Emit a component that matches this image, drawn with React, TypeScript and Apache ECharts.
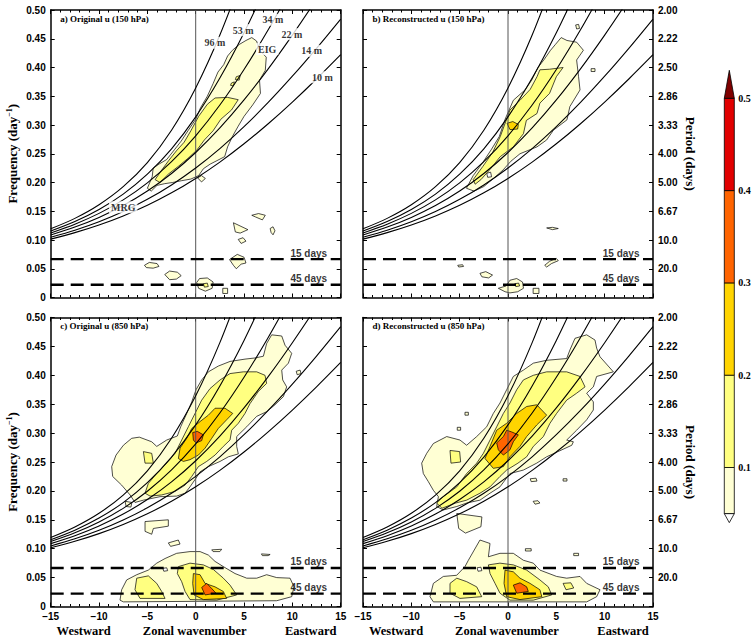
import React, { useEffect, useRef } from 'react';
import * as echarts from 'echarts';

const SANS = '"Liberation Sans", Arial, sans-serif';
const SERIF = '"Liberation Serif", "Times New Roman", serif';

// ---------- data ----------
const waveK = [-15, -12.5, -10, -7.5, -5, -2.5, 0, 2.5, 5, 7.5, 10, 12.5, 15];
// frequency (cpd) of n=0 MRG/EIG dispersion curves for each equivalent depth
const freq96m = [0.1194, 0.1376, 0.1613, 0.1927, 0.2347, 0.2910, 0.3645, 0.4565, 0.5659, null, null, null, null];
const freq53m = [0.1156, 0.1321, 0.1530, 0.1798, 0.2144, 0.2586, 0.3142, 0.3816, 0.4604, 0.5489, null, null, null];
const freq34m = [0.1123, 0.1275, 0.1463, 0.1698, 0.1994, 0.2362, 0.2812, 0.3347, 0.3965, 0.4655, 0.5404, null, null];
const freq22m = [0.1088, 0.1225, 0.1393, 0.1599, 0.1851, 0.2156, 0.2522, 0.2949, 0.3436, 0.3977, 0.4564, 0.5189, 0.5844];
const freq14m = [0.1048, 0.1171, 0.1318, 0.1495, 0.1707, 0.1958, 0.2252, 0.2590, 0.2972, 0.3392, 0.3848, 0.4333, 0.4842];
const freq10m = [0.1015, 0.1128, 0.1261, 0.1419, 0.1604, 0.1820, 0.2071, 0.2355, 0.2673, 0.3022, 0.3399, 0.3800, 0.4222];
const curves = [freq96m, freq53m, freq34m, freq22m, freq14m, freq10m];

const curveLabels: [string, number, number][] = [
  ['96 m', 2.0, 0.443], ['53 m', 4.9, 0.465], ['34 m', 8.0, 0.483], ['22 m', 9.95, 0.458],
  ['14 m', 12.0, 0.429], ['10 m', 13.1, 0.383], ['EIG', 7.4, 0.432], ['MRG', -7.5, 0.157],
];

const periodFreqs = [1 / 15, 1 / 45];
const periodNames = ['15 days', '45 days'];
const periodTickLabels = ['', '20.0', '10.0', '6.67', '5.00', '4.00', '3.33', '2.86', '2.50', '2.22', '2.00'];

const panelTitles = ['a) Original u (150 hPa)', 'b) Reconstructed u (150 hPa)', 'c) Original u (850 hPa)', 'd) Reconstructed u (850 hPa)'];

// level index: 0 hole(white), 1 (0.05-0.1), 2 (0.1-0.2), 3 (0.2-0.3), 4 (0.3-0.4), 5 (0.4-0.5), 6 (>0.5)
const levelColors = ['#ffffff', '#ffffd4', '#ffff80', '#ffd400', '#ff6400', '#e10000', '#7f0000'];
const cbLevels = [0.05, 0.1, 0.2, 0.3, 0.4, 0.5];
const cbLabels = ['', '0.1', '0.2', '0.3', '0.4', '0.5'];

type Poly = [number, number[]];

const polysA: Poly[] = [
  [1, [-5.0, 0.19, -4.5, 0.21, -4.4, 0.225, -3.8, 0.232, -3.0, 0.24, -2.2, 0.257, -1.5, 0.272, -0.8, 0.29, 0, 0.31, 0.5, 0.33, 1.2, 0.35, 1.8, 0.372, 2.3, 0.392, 2.9, 0.405, 3.3, 0.42, 3.8, 0.43, 4.5, 0.44, 5.2, 0.447, 5.8, 0.452, 6.3, 0.446, 6.6, 0.43, 7.3, 0.418, 7.2, 0.395, 6.6, 0.378, 6.7, 0.355, 5.9, 0.335, 5.0, 0.315, 4.4, 0.298, 3.8, 0.28, 3.3, 0.262, 3.0, 0.245, 2.2, 0.238, 1.5, 0.232, 0.8, 0.224, 0.3, 0.212, -0.5, 0.206, -1.5, 0.203, -2.4, 0.2, -3.2, 0.198, -4.0, 0.195, -4.6, 0.185]],
  [2, [-4.2, 0.205, -3.5, 0.222, -2.8, 0.238, -2.0, 0.255, -1.2, 0.27, -0.5, 0.29, 0.3, 0.315, 1.2, 0.336, 2.0, 0.347, 3.3, 0.348, 4.4, 0.344, 3.7, 0.326, 2.6, 0.31, 1.8, 0.29, 0.9, 0.274, 0.1, 0.256, -0.8, 0.242, -1.8, 0.228, -2.8, 0.215, -3.7, 0.2]],
  [2, [4.2, 0.384, 4.6, 0.386, 4.5, 0.378, 4.1, 0.379]],
  [2, [3.7, 0.373, 4.0, 0.375, 3.9, 0.368, 3.6, 0.369]],
  [1, [0.2, 0.208, 0.6, 0.212, 1.0, 0.207, 0.6, 0.201]],
  [1, [-5.3, 0.056, -4.8, 0.061, -4.0, 0.059, -3.8, 0.054, -4.4, 0.051, -5.1, 0.052]],
  [1, [-3.2, 0.04, -2.7, 0.046, -1.9, 0.044, -1.5, 0.038, -2.0, 0.032, -2.7, 0.031]],
  [1, [0.1, 0.026, 0.4, 0.033, 1.2, 0.034, 1.8, 0.027, 1.7, 0.016, 1.0, 0.011, 0.3, 0.016]],
  [2, [0.8, 0.024, 1.2, 0.025, 1.3, 0.019, 0.9, 0.018]],
  [1, [2.8, 0.016, 3.3, 0.016, 3.3, 0.007, 2.8, 0.007]],
  [1, [3.5, 0.066, 4.3, 0.075, 5.0, 0.07, 5.2, 0.06, 4.7, 0.058, 4.2, 0.05, 3.9, 0.056]],
  [1, [3.9, 0.13, 5.4, 0.118, 4.6, 0.112, 4.1, 0.114]],
  [1, [4.4, 0.101, 4.9, 0.104, 5.2, 0.098, 4.7, 0.094]],
  [1, [5.8, 0.143, 6.5, 0.146, 7.2, 0.143, 6.9, 0.135, 6.2, 0.14]],
  [1, [7.7, 0.12, 8.0, 0.123, 8.2, 0.116, 8.0, 0.109, 7.8, 0.113]],
];

const polysB: Poly[] = [
  [1, [-4.3, 0.19, -3.6, 0.212, -2.6, 0.235, -1.7, 0.258, -0.9, 0.28, -0.3, 0.31, 0.55, 0.343, 1.76, 0.361, 2.45, 0.378, 3.1, 0.40, 3.7, 0.413, 4.4, 0.43, 4.9, 0.44, 5.5, 0.452, 6.1, 0.447, 7.1, 0.444, 7.8, 0.43, 7.1, 0.413, 7.3, 0.384, 7.45, 0.361, 6.4, 0.332, 6.1, 0.309, 4.7, 0.291, 4.0, 0.274, 3.0, 0.262, 1.24, 0.25, 0.3, 0.237, -0.5, 0.222, -1.5, 0.207, -2.5, 0.193, -3.5, 0.185]],
  [0, [-2.2, 0.216, -1.8, 0.218, -1.7, 0.21, -2.1, 0.209]],
  [2, [-3.6, 0.205, -2.6, 0.228, -1.6, 0.252, -0.8, 0.28, 0.2, 0.326, 1.24, 0.343, 2.3, 0.362, 3.0, 0.384, 3.3, 0.396, 4.3, 0.397, 5.7, 0.40, 5.0, 0.384, 4.3, 0.355, 3.3, 0.338, 3.0, 0.32, 1.9, 0.308, 1.6, 0.285, 0.55, 0.262, -0.8, 0.245, -1.8, 0.224, -2.8, 0.205, -3.4, 0.197]],
  [3, [-0.1, 0.303, 0.5, 0.306, 1.07, 0.301, 1.0, 0.293, 0.2, 0.292]],
  [1, [7.0, 0.474, 7.3, 0.475, 7.4, 0.468, 7.1, 0.467]],
  [1, [8.6, 0.398, 9.0, 0.398, 9.0, 0.393, 8.6, 0.393]],
  [1, [4.0, 0.121, 4.6, 0.122, 5.2, 0.12, 4.6, 0.118]],
  [1, [3.8, 0.056, 4.3, 0.063, 5.0, 0.068, 5.2, 0.064, 4.5, 0.059, 4.0, 0.053]],
  [1, [-2.9, 0.042, -2.3, 0.045, -1.6, 0.039, -2.0, 0.034, -2.7, 0.036]],
  [1, [-5.2, 0.056, -4.7, 0.057, -4.6, 0.054, -5.1, 0.053]],
  [1, [-1.0, 0.016, -0.2, 0.02, 0.2, 0.03, 0.9, 0.033, 1.5, 0.027, 1.6, 0.016, 1.0, 0.01, 0.2, 0.008, -0.3, 0.01]],
  [2, [0.7, 0.024, 1.1, 0.025, 1.2, 0.02, 0.8, 0.019]],
  [1, [2.6, 0.016, 3.2, 0.016, 3.2, 0.007, 2.6, 0.007]],
];

const polysC: Poly[] = [
  [1, [-5.83, 0.293, -4.55, 0.285, -4.03, 0.277, -3.0, 0.288, -1.9, 0.295, -1.55, 0.311, -0.93, 0.334, -0.41, 0.354, 0.03, 0.375, 0.62, 0.392, 1.31, 0.406, 2.34, 0.416, 3.55, 0.424, 5.1, 0.428, 6.14, 0.43, 7.0, 0.433, 7.34, 0.455, 7.86, 0.47, 8.9, 0.468, 9.24, 0.452, 9.93, 0.438, 9.59, 0.421, 8.9, 0.409, 9.0, 0.392, 9.41, 0.38, 9.07, 0.363, 8.2, 0.349, 7.34, 0.337, 6.31, 0.329, 5.28, 0.311, 4.24, 0.294, 4.24, 0.277, 4.41, 0.264, 3.38, 0.259, 2.52, 0.251, 1.31, 0.242, 0.45, 0.233, 0.03, 0.222, -0.59, 0.207, -1.1, 0.196, -1.97, 0.191, -3.69, 0.19, -5.41, 0.184, -6.28, 0.18, -6.79, 0.193, -7.66, 0.21, -8.59, 0.225, -8.69, 0.242, -8.24, 0.262, -7.48, 0.279, -6.62, 0.291]],
  [2, [-5.24, 0.196, -4.9, 0.213, -4.03, 0.23, -3.0, 0.248, -2.14, 0.265, -1.45, 0.288, -0.76, 0.311, -0.07, 0.334, 0.62, 0.357, 1.48, 0.377, 2.52, 0.392, 3.55, 0.403, 4.93, 0.406, 6.31, 0.406, 7.17, 0.40, 7.34, 0.386, 6.48, 0.372, 5.62, 0.351, 5.1, 0.334, 4.41, 0.317, 3.72, 0.305, 3.55, 0.288, 2.86, 0.277, 2.0, 0.262, 1.14, 0.251, 0.28, 0.242, -0.41, 0.225, -1.1, 0.21, -2.14, 0.199, -3.52, 0.193, -4.72, 0.191]],
  [2, [-5.41, 0.268, -4.55, 0.265, -4.38, 0.248, -5.24, 0.248]],
  [3, [-1.79, 0.256, -1.62, 0.274, -0.93, 0.291, -0.41, 0.308, 0.45, 0.32, 1.31, 0.331, 2.0, 0.343, 3.03, 0.343, 3.83, 0.334, 3.2, 0.323, 2.34, 0.308, 1.66, 0.291, 0.97, 0.274, 0.28, 0.262, -0.59, 0.254, -1.28, 0.251]],
  [4, [-0.31, 0.301, 0.17, 0.303, 0.79, 0.297, 0.62, 0.287, 0.03, 0.283, -0.24, 0.288]],
  [1, [10.4, 0.407, 10.8, 0.409, 10.9, 0.403, 10.5, 0.401]],
  [1, [-7.3, 0.182, -6.6, 0.18, -6.7, 0.172, -7.2, 0.173]],
  [1, [-5.24, 0.147, -2.83, 0.15, -2.83, 0.139, -4.38, 0.135, -4.55, 0.125, -5.24, 0.13]],
  [1, [-2.83, 0.11, -1.8, 0.115, -1.62, 0.108, -2.6, 0.104]],
  [1, [1.66, 0.098, 2.69, 0.099, 2.5, 0.095, 1.8, 0.095]],
  [1, [6.8, 0.091, 7.7, 0.09, 7.5, 0.088, 6.9, 0.088]],
  [1, [-7.83, 0.011, -7.66, 0.029, -7.14, 0.046, -6.1, 0.055, -4.9, 0.063, -4.03, 0.075, -3.17, 0.083, -1.97, 0.092, -0.59, 0.095, 0.45, 0.095, 1.31, 0.089, 2.0, 0.078, 2.86, 0.069, 4.07, 0.057, 5.28, 0.049, 6.31, 0.049, 7.34, 0.055, 8.38, 0.05, 9.76, 0.049, 10.17, 0.034, 9.93, 0.017, 8.38, 0.01, -7.48, 0.008]],
  [0, [-3.4, 0.066, -3.0, 0.067, -2.9, 0.062, -3.3, 0.061]],
  [2, [-6.1, 0.049, -4.9, 0.053, -4.03, 0.04, -3.52, 0.026, -3.17, 0.014, -5.76, 0.014, -6.28, 0.029]],
  [2, [-1.79, 0.069, -0.59, 0.075, 0.79, 0.072, 1.83, 0.064, 2.86, 0.049, 3.55, 0.037, 4.24, 0.02, 2.17, 0.011, -0.59, 0.012, -1.1, 0.026, -1.45, 0.043, -1.9, 0.057]],
  [3, [-0.24, 0.057, 0.45, 0.055, 0.97, 0.04, 2.0, 0.034, 2.86, 0.026, 3.2, 0.014, 0.79, 0.012, -0.17, 0.02, -0.31, 0.04]],
  [4, [0.62, 0.033, 1.14, 0.04, 1.66, 0.031, 2.1, 0.023, 0.97, 0.02]],
];

const polysD: Poly[] = [
  [1, [-8.76, 0.23, -8.93, 0.248, -8.41, 0.265, -7.72, 0.282, -6.34, 0.294, -4.97, 0.288, -4.28, 0.279, -3.24, 0.294, -2.2, 0.311, -1.52, 0.334, -0.83, 0.352, -0.14, 0.375, 0.55, 0.398, 1.59, 0.409, 2.62, 0.421, 4.0, 0.426, 6.07, 0.429, 6.41, 0.444, 6.93, 0.464, 8.14, 0.47, 9.0, 0.461, 9.17, 0.447, 9.52, 0.432, 10.9, 0.406, 9.17, 0.398, 8.83, 0.38, 8.14, 0.369, 8.83, 0.354, 8.83, 0.34, 8.14, 0.323, 7.1, 0.305, 6.07, 0.288, 6.76, 0.285, 6.6, 0.279, 4.0, 0.259, 2.97, 0.248, 1.59, 0.236, 0.2, 0.23, -0.83, 0.207, -1.86, 0.196, -2.9, 0.184, -4.28, 0.179, -5.3, 0.173, -6.7, 0.167, -7.38, 0.173, -7.2, 0.19, -7.72, 0.201, -8.24, 0.216]],
  [1, [-5.3, 0.161, -2.7, 0.155, -2.8, 0.138, -4.4, 0.127, -5.1, 0.135]],
  [2, [-7.38, 0.179, -6.7, 0.19, -5.3, 0.207, -4.28, 0.23, -3.24, 0.248, -2.55, 0.265, -1.86, 0.288, -1.17, 0.311, -0.48, 0.334, 0.2, 0.352, 0.9, 0.375, 1.59, 0.392, 2.62, 0.40, 4.0, 0.406, 6.07, 0.406, 7.45, 0.398, 7.97, 0.38, 7.1, 0.369, 6.07, 0.357, 5.03, 0.334, 4.34, 0.317, 3.66, 0.294, 2.62, 0.277, 1.93, 0.259, 1.03, 0.248, -0.14, 0.236, -0.83, 0.225, -1.86, 0.207, -2.9, 0.196, -4.28, 0.184, -5.41, 0.179, -6.83, 0.17]],
  [2, [-6.0, 0.27, -5.0, 0.268, -4.9, 0.25, -5.9, 0.248]],
  [3, [-2.38, 0.256, -1.86, 0.277, -1.17, 0.305, -0.14, 0.317, 0.9, 0.334, 1.93, 0.346, 2.97, 0.349, 4.0, 0.331, 2.97, 0.314, 1.93, 0.294, 1.24, 0.277, 0.2, 0.259, -0.48, 0.242, -1.52, 0.239]],
  [4, [-1.17, 0.283, -0.48, 0.294, -0.14, 0.305, 0.38, 0.302, 1.07, 0.297, 0.55, 0.285, 0.2, 0.271, -0.48, 0.262, -1.0, 0.271]],
  [1, [2.6, 0.182, 3.1, 0.183, 3.3, 0.179, 2.8, 0.177]],
  [1, [2.3, 0.221, 2.9, 0.222, 3.0, 0.217, 2.4, 0.216]],
  [1, [5.7, 0.221, 6.1, 0.221, 6.1, 0.217, 5.7, 0.217]],
  [1, [-4.45, 0.336, -4.1, 0.336, -4.1, 0.331, -4.45, 0.331]],
  [1, [-5.25, 0.31, -4.9, 0.31, -4.9, 0.305, -5.25, 0.305]],
  [1, [6.8, 0.092, 7.3, 0.092, 7.3, 0.088, 6.8, 0.088]],
  [1, [1.8, 0.1, 2.4, 0.1, 2.4, 0.096, 1.8, 0.096]],
  [1, [-8.07, 0.017, -7.72, 0.04, -6.69, 0.052, -5.31, 0.054, -4.45, 0.069, -4.1, 0.08, -2.9, 0.115, -1.86, 0.109, -2.03, 0.086, -0.83, 0.092, 0.55, 0.092, 1.59, 0.08, 2.62, 0.075, 3.3, 0.063, 5.03, 0.052, 6.07, 0.049, 7.45, 0.052, 8.14, 0.04, 9.52, 0.029, 9.17, 0.017, 8.14, 0.008, -7.72, 0.008]],
  [0, [-3.2, 0.067, -2.8, 0.068, -2.7, 0.062, -3.1, 0.061]],
  [2, [-6.0, 0.04, -5.3, 0.049, -4.28, 0.043, -3.24, 0.034, -2.72, 0.017, -4.97, 0.014, -6.0, 0.023]],
  [2, [-2.03, 0.072, -0.83, 0.075, 0.55, 0.072, 1.93, 0.063, 3.3, 0.046, 4.17, 0.034, 4.52, 0.02, 2.62, 0.011, 0.2, 0.011, -0.83, 0.023, -1.34, 0.04, -1.86, 0.057]],
  [2, [5.7, 0.04, 6.5, 0.041, 6.8, 0.032, 6.0, 0.029]],
  [3, [-0.31, 0.063, 0.55, 0.06, 1.24, 0.049, 2.28, 0.04, 3.3, 0.029, 3.5, 0.017, 1.24, 0.012, -0.14, 0.017, -0.41, 0.04]],
  [4, [0.55, 0.037, 1.24, 0.041, 1.93, 0.034, 2.1, 0.026, 0.9, 0.023]],
];

const panelPolys = [polysA, polysB, polysC, polysD];

// ---------- layout ----------
const GRIDS = [
  { left: 50.7, top: 10, width: 290, height: 287.5 },
  { left: 363, top: 10, width: 290, height: 287.5 },
  { left: 50.7, top: 317.5, width: 290, height: 289 },
  { left: 363, top: 317.5, width: 290, height: 289 },
];

const CB = { x: 724.3, w: 10, yTop: 98.3, pxPerUnit: 923 };

function buildOption() {
  const grid = GRIDS.map((g) => ({ ...g, containLabel: false }));
  const xAxis: any[] = [];
  const yAxis: any[] = [];
  const series: any[] = [];
  const graphic: any[] = [];
  const tickLabelStyle = { fontFamily: SANS, fontWeight: 'bold', fontSize: 10, color: '#000' };
  const axisLine = { onZero: false, lineStyle: { color: '#000', width: 1.5 } };

  GRIDS.forEach((g, i) => {
    const isBottom = i >= 2;
    const isRight = i % 2 === 1;
    ['bottom', 'top'].forEach((pos) => {
      xAxis.push({
        gridIndex: i, type: 'value', min: -15, max: 15, interval: 5, position: pos,
        axisLine, splitLine: { show: false },
        axisTick: { inside: true, length: 4, lineStyle: { color: '#000', width: 1 } },
        minorTick: { show: true, splitNumber: 5, length: 2.5, lineStyle: { color: '#000', width: 1 } },
        axisLabel: {
          show: pos === 'bottom' && isBottom, margin: 5, ...tickLabelStyle,
          formatter: (v: number) => (v < 0 ? '\u2212' + Math.abs(v) : String(v)),
        },
      });
    });
    ['left', 'right'].forEach((pos) => {
      const showLbl = (pos === 'left' && !isRight) || (pos === 'right' && isRight);
      const ax: any = {
        gridIndex: i, type: 'value', min: 0, max: 0.5, interval: 0.05, position: pos,
        axisLine, splitLine: { show: false },
        axisTick: { inside: true, length: 4, lineStyle: { color: '#000', width: 1 } },
        axisLabel: {
          show: showLbl, margin: 5, ...tickLabelStyle,
          formatter: pos === 'left'
            ? (v: number) => (Math.abs(v) < 1e-9 ? '0' : v.toFixed(2))
            : (v: number) => periodTickLabels[Math.round(v / 0.05)] ?? '',
        },
      };
      if (showLbl && pos === 'left') {
        ax.name = '{t|Frequency (day}{s|\u22121}{t|)}';
        ax.nameLocation = 'middle';
        ax.nameGap = 31;
        ax.nameTextStyle = {
          rich: {
            t: { fontFamily: SERIF, fontWeight: 'bold', fontSize: 13, color: '#000' },
            s: { fontFamily: SERIF, fontWeight: 'bold', fontSize: 8, color: '#000', verticalAlign: 'top', padding: [0, 0, 6, 0] },
          },
        };
      }
      if (showLbl && pos === 'right') {
        ax.name = 'Period (days)';
        ax.nameLocation = 'middle';
        ax.nameGap = 31;
        ax.nameRotate = -90;
        ax.nameTextStyle = { fontFamily: SERIF, fontWeight: 'bold', fontSize: 13, color: '#000' };
      }
      yAxis.push(ax);
    });

    const xi = i * 2;
    const yi = i * 2;

    // contour fills
    const polys = panelPolys[i].slice().sort((a, b) => (a[0] === 0 ? 1.5 : a[0]) - (b[0] === 0 ? 1.5 : b[0]));
    series.push({
      type: 'custom', xAxisIndex: xi, yAxisIndex: yi, clip: true, silent: true, z: 1,
      data: polys.map((p, idx) => [p[1][0], p[1][1], idx]),
      encode: { x: 0, y: 1 },
      renderItem: (params: any, api: any) => {
        const p = polys[params.dataIndex];
        const flat = p[1];
        const pts: number[][] = [];
        for (let j = 0; j < flat.length; j += 2) pts.push(api.coord([flat[j], flat[j + 1]]));
        return {
          type: 'polygon', shape: { points: pts },
          style: { fill: levelColors[p[0]], stroke: '#000', lineWidth: 0.7 },
        };
      },
    });

    // zero wavenumber line
    series.push({
      type: 'line', xAxisIndex: xi, yAxisIndex: yi, data: [[0, 0], [0, 0.5]], showSymbol: false, silent: true,
      lineStyle: { color: '#555', width: 1 }, z: 3,
    });

    // dispersion curves
    curves.forEach((c) => {
      series.push({
        type: 'line', xAxisIndex: xi, yAxisIndex: yi, smooth: 0.3, showSymbol: false, silent: true, clip: true, z: 4,
        data: waveK.map((k, j) => [k, c[j]]).filter((d) => d[1] !== null),
        lineStyle: { color: '#000', width: 1.1 },
      });
    });

    // period dashed lines
    periodFreqs.forEach((f) => {
      series.push({
        type: 'line', xAxisIndex: xi, yAxisIndex: yi, showSymbol: false, silent: true, z: 4,
        data: [[-15, f], [15, f]],
        lineStyle: { color: '#000', width: 2.4, type: [13, 7] },
      });
    });
    series.push({
      type: 'scatter', xAxisIndex: xi, yAxisIndex: yi, symbolSize: 0, silent: true, z: 6,
      data: periodFreqs.map((f, j) => [13.6, f, periodNames[j]]),
      label: {
        show: true, position: 'inside', align: 'right', verticalAlign: 'bottom', offset: [0, -1],
        formatter: (p: any) => p.data[2], fontFamily: SANS, fontWeight: 'bold', fontSize: 10, color: '#000',
      },
    });

    if (i === 0) {
      series.push({
        type: 'scatter', xAxisIndex: xi, yAxisIndex: yi, symbolSize: 0, silent: true, z: 7,
        data: curveLabels.map((c) => [c[1], c[2], c[0]]),
        label: {
          show: true, position: 'inside', align: 'center', verticalAlign: 'middle',
          formatter: (p: any) => p.data[2], fontFamily: SERIF, fontWeight: 'bold', fontSize: 10, color: '#000',
          backgroundColor: '#fff', padding: [1, 2],
        },
      });
    }

    graphic.push({
      type: 'text', left: g.left + 9.5, top: g.top + 4,
      style: { text: panelTitles[i], fontFamily: SERIF, fontWeight: 'bold', fontSize: 9, fill: '#000' },
      z: 10,
    });
    if (isBottom) {
      const cy = 630.5;
      const st = { align: 'center', verticalAlign: 'middle', fontFamily: SERIF, fontWeight: 'bold', fontSize: 12.5, fill: '#000' };
      graphic.push(
        { type: 'text', x: g.left + 33, y: cy, style: { ...st, text: 'Westward' } },
        { type: 'text', x: g.left + g.width / 2 - 1, y: cy, style: { ...st, text: 'Zonal wavenumber' } },
        { type: 'text', x: g.left + g.width - 30, y: cy, style: { ...st, text: 'Eastward' } },
      );
    }
  });

  // colour bar
  const yOf = (l: number) => CB.yTop + (0.5 - l) * CB.pxPerUnit;
  for (let j = 0; j < cbLevels.length - 1; j++) {
    const y0 = yOf(cbLevels[j + 1]);
    const y1 = yOf(cbLevels[j]);
    graphic.push({
      type: 'rect', shape: { x: CB.x, y: y0, width: CB.w, height: y1 - y0 },
      style: { fill: levelColors[j + 1], stroke: '#000', lineWidth: 0.8 },
    });
  }
  graphic.push({
    type: 'polygon', shape: { points: [[CB.x, CB.yTop], [CB.x + CB.w, CB.yTop], [CB.x + CB.w / 2, CB.yTop - 28]] },
    style: { fill: levelColors[6], stroke: '#000', lineWidth: 0.8 },
  });
  const yb = yOf(cbLevels[0]);
  graphic.push({
    type: 'polygon', shape: { points: [[CB.x, yb], [CB.x + CB.w, yb], [CB.x + CB.w / 2, yb + 9]] },
    style: { fill: '#fff', stroke: '#000', lineWidth: 0.8 },
  });
  cbLevels.forEach((l, j) => {
    if (!cbLabels[j]) return;
    graphic.push({
      type: 'text', x: CB.x + CB.w + 4, y: yOf(l),
      style: { text: cbLabels[j], verticalAlign: 'middle', fontFamily: SERIF, fontWeight: 'bold', fontSize: 10, fill: '#000' },
    });
  });

  return { animation: false, backgroundColor: '#fff', grid, xAxis, yAxis, series, graphic };
}

export default function App() {
  const ref = useRef<HTMLDivElement>(null);
  useEffect(() => {
    if (!ref.current) return;
    const chart = echarts.init(ref.current, null, { renderer: 'svg' });
    chart.setOption(buildOption() as any);
    return () => chart.dispose();
  }, []);
  return <div ref={ref} style={{ position: 'absolute', left: 0, top: 0, width: 753, height: 638, background: '#fff' }} />;
}
